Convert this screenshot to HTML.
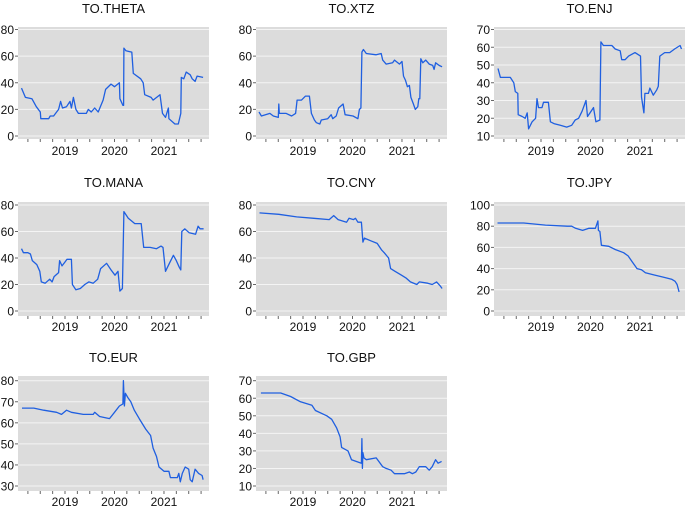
<!DOCTYPE html>
<html><head><meta charset="utf-8"><style>
html,body{margin:0;padding:0;background:#fff;}
svg{display:block;font-family:"Liberation Sans",sans-serif;}
</style></head><body>
<svg id="chart" width="685" height="509" viewBox="0 0 685 509"></svg>
<script>
const thetaT=[2018.12,2018.20,2018.33,2018.42,2018.50,2018.51,2018.67,2018.70,2018.77,2018.87,2018.91,2018.95,2019.03,2019.10,2019.13,2019.17,2019.22,2019.27,2019.43,2019.47,2019.53,2019.60,2019.67,2019.77,2019.82,2019.93,2020.00,2020.10,2020.11,2020.17,2020.185,2020.19,2020.23,2020.35,2020.38,2020.53,2020.58,2020.61,2020.74,2020.78,2020.92,2020.97,2021.03,2021.09,2021.10,2021.22,2021.29,2021.34,2021.35,2021.40,2021.45,2021.53,2021.57,2021.63,2021.67,2021.79];
const thetaV=[36,29,28,22,18,13,13,15,15,20,26,21,22,26,21,29,20,17,17,20,18,21,18,27,35,39,37,40,28,23,23,66,64,63,47,43,40,31,29,27,31,17,14,21,13,9,9,17,44,43,48,46,43,41,45,44];
const xtzT=[2018.11,2018.16,2018.33,2018.40,2018.50,2018.51,2018.52,2018.66,2018.77,2018.85,2018.88,2018.97,2019.05,2019.13,2019.17,2019.23,2019.27,2019.34,2019.37,2019.50,2019.57,2019.60,2019.67,2019.72,2019.81,2019.85,2020.01,2020.11,2020.14,2020.17,2020.19,2020.22,2020.28,2020.48,2020.58,2020.61,2020.68,2020.81,2020.85,2020.95,2021.00,2021.03,2021.07,2021.11,2021.15,2021.18,2021.23,2021.27,2021.32,2021.34,2021.36,2021.38,2021.42,2021.48,2021.55,2021.62,2021.65,2021.68,2021.75,2021.81];
const xtzV=[18,15,17,15,14,24,17,17,15,17,27,27,30,30,17,12,10,9,12,13,16,13,15,21,24,16,15,13,20,21,63,65,62,61,62,57,54,55,57,54,56,45,42,37,38,29,24,20,22,28,28,58,55,57,54,53,50,55,53,52];
const enjT=[2018.13,2018.18,2018.38,2018.45,2018.48,2018.53,2018.54,2018.62,2018.68,2018.72,2018.75,2018.82,2018.89,2018.92,2018.95,2019.02,2019.05,2019.15,2019.19,2019.26,2019.39,2019.52,2019.62,2019.69,2019.76,2019.83,2019.91,2019.94,2019.99,2020.06,2020.11,2020.19,2020.21,2020.26,2020.43,2020.50,2020.60,2020.63,2020.70,2020.77,2020.90,2021.01,2021.03,2021.08,2021.10,2021.17,2021.20,2021.27,2021.34,2021.37,2021.40,2021.50,2021.60,2021.70,2021.81,2021.84];
const enjV=[48,43,43,40,35,34,22,21,20,23,14,18,20,31,26,26,29,29,18,17,16,15,16,19,20,24,30,21,23,26,18,19,63,61,61,59,58,53,53,55,57,55,32,23,34,34,37,33,36,38,55,57,57,59,61,59];
const manaT=[2018.12,2018.16,2018.25,2018.30,2018.34,2018.43,2018.49,2018.52,2018.60,2018.69,2018.74,2018.78,2018.87,2018.89,2018.94,2019.00,2019.04,2019.13,2019.15,2019.22,2019.31,2019.40,2019.48,2019.57,2019.66,2019.72,2019.84,2019.93,2020.01,2020.07,2020.11,2020.16,2020.19,2020.28,2020.41,2020.54,2020.59,2020.72,2020.85,2020.94,2020.98,2021.03,2021.11,2021.19,2021.25,2021.31,2021.34,2021.36,2021.42,2021.51,2021.64,2021.69,2021.73,2021.80];
const manaV=[47,44,44,43,38,35,30,22,21,24,22,26,29,38,34,37,39,39,20,16,17,20,22,21,24,32,36,31,27,30,15,17,75,70,66,66,48,48,47,49,48,30,36,42,38,33,31,60,62,59,58,64,62,62];
const cnyT=[2018.12,2018.51,2018.87,2019.22,2019.53,2019.62,2019.71,2019.88,2019.93,2020.02,2020.06,2020.11,2020.18,2020.21,2020.24,2020.37,2020.50,2020.59,2020.64,2020.73,2020.77,2020.86,2020.99,2021.08,2021.17,2021.30,2021.35,2021.52,2021.61,2021.70,2021.77,2021.81];
const cnyV=[74,73,71,70,69,72,69,67,70,69,70,67,67,52,55,53,51,46,44,40,32,30,27,25,22,20,22,21,20,22,19,17];
const jpyT=[2018.12,2018.65,2019.09,2019.53,2019.62,2019.70,2019.84,2019.97,2020.10,2020.15,2020.16,2020.19,2020.22,2020.37,2020.50,2020.67,2020.76,2020.85,2020.94,2021.03,2021.11,2021.29,2021.47,2021.64,2021.71,2021.75,2021.79];
const jpyV=[83,83,81,80,80,78,76,78,78,85,76,75,62,61,58,55,52,46,40,39,36,34,32,30,28,25,18];
const eurT=[2018.13,2018.37,2018.57,2018.83,2018.93,2019.03,2019.13,2019.37,2019.57,2019.60,2019.70,2019.90,2020.00,2020.10,2020.17,2020.18,2020.20,2020.22,2020.27,2020.33,2020.40,2020.50,2020.63,2020.73,2020.78,2020.85,2020.90,2021.00,2021.10,2021.13,2021.27,2021.30,2021.33,2021.37,2021.43,2021.50,2021.53,2021.57,2021.63,2021.70,2021.77,2021.79];
const eurV=[67,67,66,65,64,66,65,64,64,65,63,62,65,68,69,80,68,74,72,70,66,62,57,54,48,44,39,37,37,34,34,36,32,36,39,38,33,32,38,36,35,33];
const gbpT=[2018.15,2018.55,2018.75,2018.95,2019.18,2019.25,2019.48,2019.58,2019.68,2019.75,2019.78,2019.91,2019.98,2020.18,2020.19,2020.20,2020.21,2020.23,2020.28,2020.48,2020.61,2020.68,2020.78,2020.85,2020.95,2021.05,2021.15,2021.21,2021.28,2021.35,2021.48,2021.55,2021.61,2021.68,2021.73,2021.80];
const gbpV=[63,63,61,58,56,53,50,48,43,38,32,30,25,23,37,20,29,26,25,26,21,20,19,17,17,17,18,17,18,21,21,19,21,25,23,24];
const yearTicks=[2019,2020,2021];
const thetaTicks=[0,20,40,60,80],xtzTicks=[0,20,40,60,80],enjTicks=[10,20,30,40,50,60,70],manaTicks=[0,20,40,60,80],cnyTicks=[0,20,40,60,80],jpyTicks=[0,20,40,60,80,100],eurTicks=[30,40,50,60,70,80],gbpTicks=[10,20,30,40,50,60,70];

const NS='http://www.w3.org/2000/svg';
const svg=document.getElementById('chart');
function mk(tag,attrs,parent){const e=document.createElementNS(NS,tag);for(const k in attrs)e.setAttribute(k,attrs[k]);(parent||svg).appendChild(e);return e;}
const cols=[18,256,494];
const rows=[{top:27,bot:139,gt:29.5,gb:136,title:13,xl:155},{top:202,bot:316,gt:205,gb:311,title:187,xl:331},{top:376,bot:491,gt:380.7,gb:486,title:362,xl:506}];
const X0=2018.05,X1=2021.91,W=191;
function panel(name,col,row,ticks,T,V){
  const L=cols[col],R=rows[row];
  const g=mk('g',{});
  
  
  const xs=t=>L+(t-X0)/(X1-X0)*W;
  const lo=ticks[0],hi=ticks[ticks.length-1];
  const ys=v=>R.gb-(v-lo)/(hi-lo)*(R.gb-R.gt);
  const bg=mk('rect',{x:L,y:R.top,width:W,height:R.bot-R.top,fill:'#dcdcdc'},g);
  
  
  const tt=mk('text',{x:L+W/2,y:R.title,'font-size':13,'text-anchor':'middle',fill:'#111'},g);
  tt.textContent=name;
  
  
  ticks.forEach(v=>{
    const y=ys(v);
    mk('line',{x1:L,x2:L+W,y1:y,y2:y,stroke:'#f4f4f4','stroke-width':1},g);
    mk('line',{x1:L-3,x2:L,y1:y,y2:y,stroke:'#666','stroke-width':1},g);
    const lb=mk('text',{x:L-4,y:y+4.5,'font-size':12,'text-anchor':'end',fill:'#111'},g);
    lb.textContent=v;
    
    
  });
  for(let q=2018.25;q<X1;q+=0.25){
    const x=xs(q);
    mk('line',{x1:x,x2:x,y1:R.bot,y2:R.bot+3,stroke:'#666','stroke-width':1},g);
  }
  yearTicks.forEach(yr=>{
    const lb=mk('text',{x:xs(yr),y:R.xl,'font-size':12,'text-anchor':'middle',fill:'#111'},g);
    lb.textContent=yr;
    
    
  });
  const d=T.map((t,i)=>(i?'L':'M')+xs(t).toFixed(1)+','+ys(V[i]).toFixed(1)).join('');
  const p=mk('path',{d:d,fill:'none',stroke:'#1f5fe0','stroke-width':1.3,'stroke-linejoin':'round'},g);
  
  
}
panel('TO.THETA',0,0,thetaTicks,thetaT,thetaV);
panel('TO.XTZ',1,0,xtzTicks,xtzT,xtzV);
panel('TO.ENJ',2,0,enjTicks,enjT,enjV);
panel('TO.MANA',0,1,manaTicks,manaT,manaV);
panel('TO.CNY',1,1,cnyTicks,cnyT,cnyV);
panel('TO.JPY',2,1,jpyTicks,jpyT,jpyV);
panel('TO.EUR',0,2,eurTicks,eurT,eurV);
panel('TO.GBP',1,2,gbpTicks,gbpT,gbpV);
</script>
</body></html>
